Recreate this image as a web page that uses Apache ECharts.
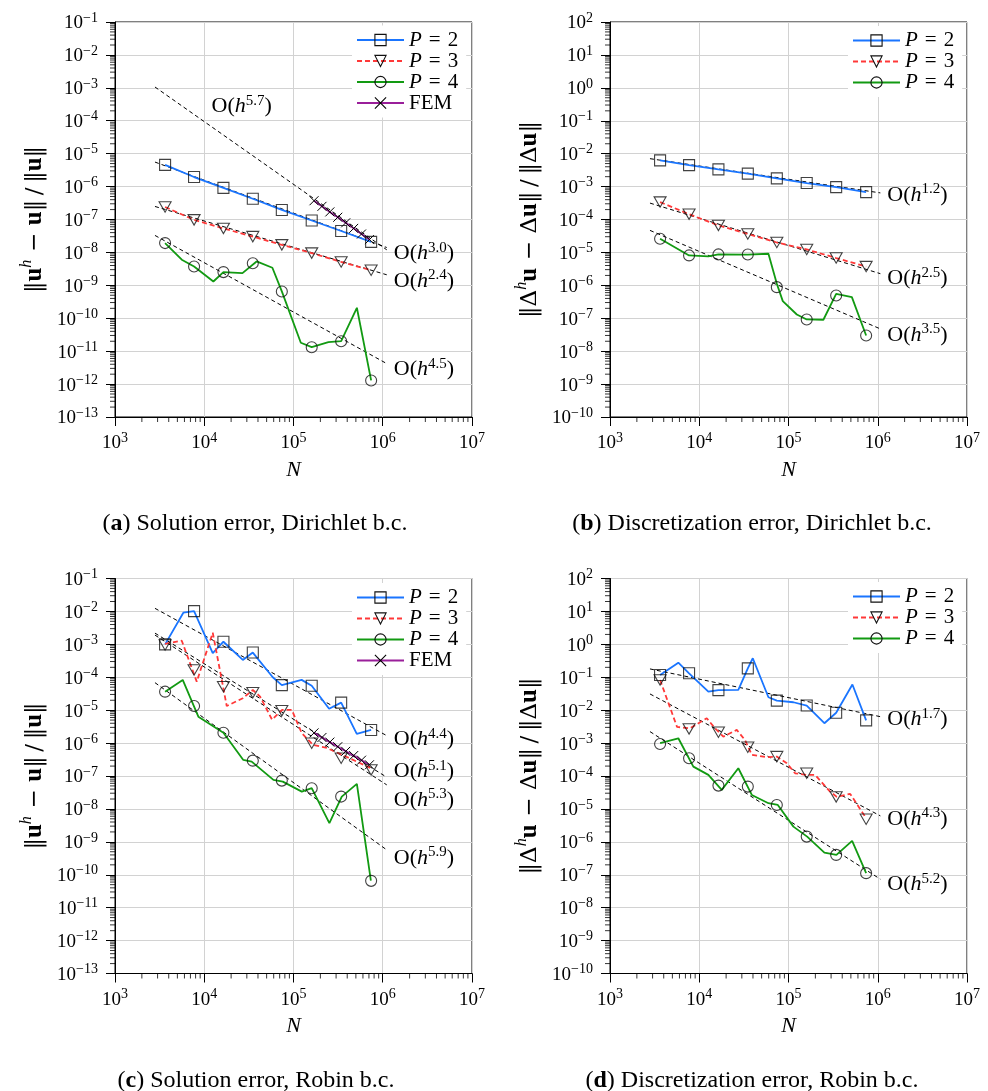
<!DOCTYPE html>
<html><head><meta charset="utf-8">
<script src="https://cdn.jsdelivr.net/npm/echarts@6/dist/echarts.min.js"></script>
<style>html,body{margin:0;padding:0;background:#fff}#c{width:988px;height:1091px}</style>
</head><body><div id="c"></div>
<script>
const FONT = "'Liberation Serif','DejaVu Serif',serif";
const FONT_W = "'DejaVu Serif','Liberation Serif',serif";

// ---------- shared abscissae ----------
const N_MARK = [3640, 7690, 16400, 35000, 74000, 160000, 342000, 741000];
const N_FEM  = [169800, 208400, 255300, 313300, 384600, 472100, 578100, 709600];
const N_REF_L = [2805, 1.109e6];
const N_REF_R = [2805, 1.07e6];

// ---------- (a) solution error, Dirichlet ----------
const a_p2 = [4.57e-6, 1.95e-6, 9.12e-7, 4.27e-7, 1.95e-7, 9.33e-8, 4.47e-8, 2.09e-8];
const a_p3 = [2.40e-7, 9.77e-8, 5.37e-8, 3.02e-8, 1.70e-8, 9.55e-9, 5.13e-9, 2.88e-9];
const a_p4 = [1.92e-8, 3.75e-9, 2.52e-9, 4.68e-9, 6.53e-10, 1.32e-11, 2.01e-11, 1.29e-12];
const a_p4_lineN = [3640, 5600, 7690, 12650, 16400, 26800, 38600, 58000, 74000, 120800, 160000, 246000, 342000, 513000, 741000];
const a_p4_lineE = [1.92e-8, 6.0e-9, 3.75e-9, 1.31e-9, 2.52e-9, 2.35e-9, 5.32e-9, 3.43e-9, 6.53e-10, 1.80e-11, 1.32e-11, 1.88e-11, 2.01e-11, 2.08e-10, 1.29e-12];
const a_fem = [3.72e-7, 2.51e-7, 1.70e-7, 1.17e-7, 7.94e-8, 5.37e-8, 3.63e-8, 2.45e-8];
const a_ref57 = [1.06e-3, 1.20e-8];
const a_ref30 = [5.56e-6, 1.41e-8];
const a_ref24 = [2.49e-7, 2.09e-9];
const a_ref45 = [3.28e-8, 4.19e-12];
const a_lbl57_at = [2.63e4, 2.94e-4];

// ---------- (b) discretization error, Dirichlet ----------
const b_p2 = [6.25e-3, 4.50e-3, 3.33e-3, 2.47e-3, 1.77e-3, 1.28e-3, 9.66e-4, 6.81e-4];
const b_p3 = [3.39e-4, 1.45e-4, 6.61e-5, 3.63e-5, 2.00e-5, 1.23e-5, 6.76e-6, 3.72e-6];
const b_p4 = [2.61e-5, 8.11e-6, 8.69e-6, 8.6e-6, 8.81e-7, 9.20e-8, 4.93e-7, 3.00e-8];
const b_p4_lineN = [3640, 7690, 12650, 16400, 35000, 59600, 74000, 86300, 123900, 160000, 246000, 342000, 513000, 741000];
const b_p4_lineE = [2.61e-5, 8.11e-6, 7.59e-6, 8.69e-6, 8.6e-6, 9.12e-6, 1.12e-6, 3.31e-7, 1.30e-7, 9.20e-8, 8.99e-8, 5.5e-7, 4.37e-7, 3.0e-8];
const b_ref12 = [7.05e-3, 6.43e-4];
const b_ref25 = [3.15e-4, 2.26e-6];
const b_ref35 = [4.67e-5, 4.75e-8];

// ---------- (c) solution error, Robin ----------
const c_p2 = [1.0e-3, 1.02e-2, 1.20e-3, 5.62e-4, 5.75e-5, 5.50e-5, 1.70e-5, 2.51e-6];
const c_p2_lineN = [3640, 5830, 7690, 12450, 16400, 27040, 35000, 58600, 74000, 123300, 160000, 250600, 342000, 511700, 741000];
const c_p2_lineE = [1.0e-3, 9.12e-3, 1.02e-2, 5.37e-4, 1.2e-3, 3.35e-4, 5.62e-4, 1.0e-4, 5.75e-5, 8.32e-5, 5.5e-5, 1.10e-5, 1.70e-5, 1.91e-6, 2.51e-6];
const c_p3 = [9.57e-4, 1.66e-4, 5.18e-5, 3.40e-5, 9.66e-6, 9.89e-7, 3.47e-7, 1.53e-7];
const c_p3_lineN = [3640, 5600, 8240, 12450, 17860, 27040, 35000, 42270, 57540, 74500, 95700, 123900, 166000, 236000, 332700, 512900, 722800];
const c_p3_lineE = [1.03e-3, 1.29e-3, 7.35e-5, 2.26e-3, 1.34e-5, 2.30e-5, 4.11e-5, 2.58e-5, 5.13e-6, 1.02e-5, 1.02e-5, 1.99e-6, 8.77e-7, 7.13e-7, 4.68e-7, 2.74e-7, 1.76e-7];
const c_p4 = [3.65e-5, 1.34e-5, 2.07e-6, 2.93e-7, 7.24e-8, 4.26e-8, 2.37e-8, 6.52e-11];
const c_p4_lineN = [3640, 5740, 8590, 16400, 27400, 34000, 59600, 75900, 123900, 160000, 252400, 347500, 512900, 736200];
const c_p4_lineE = [3.65e-5, 8.28e-5, 6.35e-6, 2.07e-6, 3.08e-7, 2.74e-7, 7.60e-8, 6.75e-8, 3.36e-8, 4.26e-8, 3.68e-9, 2.37e-8, 5.75e-8, 6.65e-11];
const c_fem = [2.04e-6, 1.48e-6, 1.07e-6, 7.76e-7, 5.62e-7, 4.17e-7, 3.02e-7, 2.19e-7];
const c_ref44 = [1.24e-2, 1.68e-6];
const c_ref51 = [2.19e-3, 9.18e-8];
const c_ref53 = [1.91e-3, 5.37e-8];
const c_ref59 = [6.85e-5, 5.69e-10];

// ---------- (d) discretization error, Robin ----------
const d_p2 = [1.17e-1, 1.32e-1, 4.07e-2, 1.86e-1, 1.95e-2, 1.38e-2, 8.32e-3, 4.90e-3];
const d_p2_lineN = [3640, 5830, 7690, 12650, 16400, 27400, 35000, 39800, 59600, 74000, 113500, 160000, 252400, 342000, 520000, 741000];
const d_p2_lineE = [1.17e-1, 2.77e-1, 1.32e-1, 3.65e-2, 4.07e-2, 4.11e-2, 1.86e-1, 3.78e-1, 2.47e-2, 1.95e-2, 1.74e-2, 1.38e-2, 4.01e-3, 8.32e-3, 6.03e-2, 4.90e-3];
const d_p3 = [8.28e-2, 2.69e-3, 2.13e-3, 7.48e-4, 3.88e-4, 1.21e-4, 2.32e-5, 4.86e-6];
const d_p3_lineN = [3640, 5640, 7890, 12130, 15030, 18620, 26300, 32580, 38820, 57150, 73960, 95700, 118600, 160300, 198600, 292400, 347500, 490900, 663700, 741300];
const d_p3_lineE = [8.28e-2, 3.09e-3, 2.82e-3, 5.68e-3, 2.82e-3, 1.57e-3, 2.51e-3, 1.24e-3, 4.37e-4, 3.72e-4, 3.88e-4, 2.44e-4, 1.21e-4, 1.08e-4, 1.08e-4, 3.36e-5, 2.32e-5, 2.86e-5, 8.28e-6, 5.22e-6];
const d_p4 = [9.42e-4, 3.47e-4, 5.11e-5, 4.76e-5, 1.32e-5, 1.44e-6, 4.01e-7, 1.12e-7];
const d_p4_lineN = [3640, 5830, 8590, 12650, 17860, 27400, 38820, 59600, 75900, 113500, 161800, 252400, 344400, 516400, 741300];
const d_p4_lineE = [9.89e-4, 1.40e-3, 1.93e-4, 1.08e-4, 3.78e-5, 1.72e-4, 2.66e-5, 1.49e-5, 1.32e-5, 2.90e-6, 1.44e-6, 4.71e-7, 4.01e-7, 1.07e-6, 1.12e-7];
const d_ref17 = [1.79e-1, 6.35e-3];
const d_ref43 = [3.11e-2, 6.14e-6];
const d_ref52 = [2.23e-3, 7.33e-8];

// ---------- texts ----------
const SERIES_NAMES = ['P = 2', 'P = 3', 'P = 4', 'FEM'];
const CAPTIONS = [
  '({b|a}) Solution error, Dirichlet b.c.',
  '({b|b}) Discretization error, Dirichlet b.c.',
  '({b|c}) Solution error, Robin b.c.',
  '({b|d}) Discretization error, Robin b.c.'
];
const YNAME_SOL  = '{t|‖}{b|u}{s|h}{t|\u2004−\u2004}{b|u}{t|‖\u2009/\u2009‖}{b|u}{t|‖}';
const YNAME_DISC = '{t|‖Δ}{s|h}{b|u}{t|\u2004−\u2004Δ}{b|u}{t|‖\u2009/\u2009‖Δ}{b|u}{t|‖}';
const X_RANGE = [1e3, 1e7];
const Y_RANGES = [[1e-13, 1e-1], [1e-10, 1e2], [1e-13, 1e-1], [1e-10, 1e2]];

// ---------- styling ----------
const BLUE = '#1a75ff', RED = '#ff3838', GREEN = '#129a12', PURPLE = '#9a1f9a';
const SYM_SQ = 'rect';
const SYM_TRI = 'path://M0,0L12,0L6,10.4Z';
const SYM_CIR = 'circle';
const SYM_X = 'path://M0,0L10,10M10,0L0,10';

const GRIDS = [
  {left: 115, top: 22, width: 357, height: 395},
  {left: 610, top: 22, width: 357, height: 395},
  {left: 115, top: 578.5, width: 357, height: 395},
  {left: 610, top: 578.5, width: 357, height: 395}
];

const TICK_RICH = {
  b: {fontFamily: FONT, fontSize: 19, lineHeight: 22, verticalAlign: 'bottom', color: '#000'},
  s: {fontFamily: FONT, fontSize: 14, lineHeight: 14, verticalAlign: 'top', color: '#000'}
};
function powLabel(v) {
  const e = Math.round(Math.log10(v));
  return '{b|10}{s|' + (e < 0 ? '\u2212' + (-e) : e) + '}';
}
const LBL_RICH = {
  o: {fontFamily: FONT, fontSize: 22, lineHeight: 24, verticalAlign: 'bottom', color: '#000'},
  h: {fontFamily: FONT, fontSize: 22, lineHeight: 24, verticalAlign: 'bottom', fontStyle: 'italic', color: '#000'},
  s: {fontFamily: FONT, fontSize: 15, lineHeight: 14, verticalAlign: 'top', color: '#000'}
};
function orderLabel(p) { return '{o|O(}{h|h}{s|' + p + '}{o|)}'; }

const xAxes = [], yAxes = [], series = [];
GRIDS.forEach((g, i) => {
  const common = {
    gridIndex: i, type: 'log', logBase: 10, interval: 1,
    axisLine: {show: true, onZero: false, lineStyle: {color: '#000', width: 1}},
    axisTick: {show: true, inside: false, length: 9, lineStyle: {color: '#000', width: 1}},
    splitLine: {show: true, lineStyle: {color: '#d2d2d2', width: 1}},
    axisLabel: {formatter: powLabel, rich: TICK_RICH, showMinLabel: true, showMaxLabel: true}
  };
  xAxes.push(Object.assign({}, common, {
    min: X_RANGE[0], max: X_RANGE[1], splitNumber: 4,
    axisLabel: Object.assign({}, common.axisLabel, {margin: 14}),
    name: 'N', nameLocation: 'middle', nameGap: 41,
    nameTextStyle: {fontFamily: FONT, fontSize: 22, fontStyle: 'italic', color: '#000', lineHeight: 24}
  }));
  yAxes.push(Object.assign({}, common, {
    min: Y_RANGES[i][0], max: Y_RANGES[i][1], splitNumber: 12,
    axisLabel: Object.assign({}, common.axisLabel, {margin: 17}),
    name: (i % 2 === 0) ? YNAME_SOL : YNAME_DISC, nameLocation: 'middle', nameGap: 68,
    nameTextStyle: {
      color: '#000', fontFamily: FONT_W, fontSize: 23, lineHeight: 28,
      rich: {
        t: {fontFamily: FONT_W, fontSize: 23, lineHeight: 28, verticalAlign: 'bottom', color: '#000'},
        b: {fontFamily: FONT, fontSize: 25, lineHeight: 28, verticalAlign: 'bottom', fontWeight: 'bold', color: '#000'},
        s: {fontFamily: FONT, fontSize: 16, lineHeight: 15, verticalAlign: 'top', fontStyle: 'italic', color: '#000'}
      }
    }
  }));
  // minor ticks (log sub-divisions) drawn through the axes' own scales
  const minor = [];
  for (let k = 3; k < 7; k++) for (let m = 2; m < 10; m++) minor.push([m * Math.pow(10, k), Y_RANGES[i][0], 0]);
  const e0 = Math.round(Math.log10(Y_RANGES[i][0])), e1 = Math.round(Math.log10(Y_RANGES[i][1]));
  for (let k = e0; k < e1; k++) for (let m = 2; m < 10; m++) minor.push([X_RANGE[0], m * Math.pow(10, k), 1]);
  series.push({
    type: 'custom', xAxisIndex: i, yAxisIndex: i, data: minor, clip: false, silent: true, z: 1,
    encode: {x: 0, y: 1},
    renderItem: function (params, api) {
      const p = api.coord([api.value(0), api.value(1)]);
      const L = 5;
      const shape = api.value(2) === 0
        ? {x1: p[0], y1: p[1], x2: p[0], y2: p[1] + L}
        : {x1: p[0] - L, y1: p[1], x2: p[0], y2: p[1]};
      return {type: 'line', shape: shape, style: {stroke: '#000', lineWidth: 0.8}};
    }
  });
});

function addRef(g, N, E, p, dy) {
  series.push({
    type: 'line', xAxisIndex: g, yAxisIndex: g, silent: true, z: 2,
    data: N.map((n, k) => [n, E[k]]), symbol: 'none',
    lineStyle: {color: '#000', width: 1, type: [4, 3]},
    endLabel: dy === null ? {show: false} : {
      show: true, formatter: () => orderLabel(p), rich: LBL_RICH, distance: 7, offset: [0, dy]
    }
  });
}
function addData(g, name, lineN, lineE, markE, color, dash, sym, size) {
  const st = {color: 'rgba(0,0,0,0)', borderColor: '#111', borderWidth: 1.1};
  series.push({
    type: 'line', name: name, xAxisIndex: g, yAxisIndex: g, silent: true, z: 3,
    data: lineN.map((n, k) => [n, lineE[k]]),
    symbol: sym, symbolSize: size, symbolKeepAspect: true, showSymbol: false,
    lineStyle: {color: color, width: 1.8, type: dash}, itemStyle: st
  });
  series.push({
    type: 'scatter', name: name + ' marks', xAxisIndex: g, yAxisIndex: g, silent: true, z: 4,
    data: N_MARK.map((n, k) => [n, markE[k]]),
    symbol: sym, symbolSize: size, symbolKeepAspect: true, itemStyle: st
  });
}
function addFem(g, E) {
  series.push({
    type: 'line', name: 'FEM', xAxisIndex: g, yAxisIndex: g, silent: true, z: 3,
    data: N_FEM.map((n, k) => [n, E[k]]),
    symbol: SYM_X, symbolSize: 9, showSymbol: true,
    lineStyle: {color: PURPLE, width: 1.8},
    itemStyle: {color: 'rgba(0,0,0,0)', borderColor: '#000', borderWidth: 1}
  });
}
const DASH = [5, 3];

// (a)
addRef(0, N_REF_L, a_ref57, '5.7', null);
series[series.length - 1].markPoint = {
  silent: true, symbol: 'circle', symbolSize: 0,
  label: {show: true, position: 'inside', formatter: () => orderLabel('5.7'), rich: LBL_RICH},
  data: [{coord: a_lbl57_at}]
};
addRef(0, N_REF_L, a_ref30, '3.0', 5);
addRef(0, N_REF_L, a_ref24, '2.4', 5);
addRef(0, N_REF_L, a_ref45, '4.5', 5);
addData(0, 'P = 2', N_MARK, a_p2, a_p2, BLUE, 'solid', SYM_SQ, 11);
addData(0, 'P = 3', N_MARK, a_p3, a_p3, RED, DASH, SYM_TRI, 12);
addData(0, 'P = 4', a_p4_lineN, a_p4_lineE, a_p4, GREEN, 'solid', SYM_CIR, 11);
addFem(0, a_fem);
// (b)
addRef(1, N_REF_R, b_ref12, '1.2', 1);
addRef(1, N_REF_R, b_ref25, '2.5', 4);
addRef(1, N_REF_R, b_ref35, '3.5', 5);
addData(1, 'P = 2', N_MARK, b_p2, b_p2, BLUE, 'solid', SYM_SQ, 11);
addData(1, 'P = 3', N_MARK, b_p3, b_p3, RED, DASH, SYM_TRI, 12);
addData(1, 'P = 4', b_p4_lineN, b_p4_lineE, b_p4, GREEN, 'solid', SYM_CIR, 11);
// (c)
addRef(2, N_REF_L, c_ref44, '4.4', 3);
addRef(2, N_REF_L, c_ref51, '5.1', -7);
addRef(2, N_REF_L, c_ref53, '5.3', 14);
addRef(2, N_REF_L, c_ref59, '5.9', 7);
addData(2, 'P = 2', c_p2_lineN, c_p2_lineE, c_p2, BLUE, 'solid', SYM_SQ, 11);
addData(2, 'P = 3', c_p3_lineN, c_p3_lineE, c_p3, RED, DASH, SYM_TRI, 12);
addData(2, 'P = 4', c_p4_lineN, c_p4_lineE, c_p4, GREEN, 'solid', SYM_CIR, 11);
addFem(2, c_fem);
// (d)
addRef(3, N_REF_R, d_ref17, '1.7', 2);
addRef(3, N_REF_R, d_ref43, '4.3', 2);
addRef(3, N_REF_R, d_ref52, '5.2', 4);
addData(3, 'P = 2', d_p2_lineN, d_p2_lineE, d_p2, BLUE, 'solid', SYM_SQ, 11);
addData(3, 'P = 3', d_p3_lineN, d_p3_lineE, d_p3, RED, DASH, SYM_TRI, 12);
addData(3, 'P = 4', d_p4_lineN, d_p4_lineE, d_p4, GREEN, 'solid', SYM_CIR, 11);

const LEG_POS = [[352, 25.5, 4], [848, 26, 3], [352, 583, 4], [848, 582, 3]];
const legends = LEG_POS.map(p => ({
  orient: 'vertical', left: p[0], top: p[1], itemWidth: 47, itemHeight: 14, itemGap: 0,
  padding: [4, 8, 4, 4], backgroundColor: '#fff', selectedMode: false, z: 6,
  data: SERIES_NAMES.slice(0, p[2]),
  itemStyle: {borderWidth: 1.1},
  formatter: n => n === 'FEM' ? 'FEM' : '{i|P}\u2004=\u2004' + n.slice(4),
  textStyle: {
    fontFamily: FONT, fontSize: 21, lineHeight: 17.6, color: '#000',
    rich: {i: {fontFamily: FONT, fontSize: 21, lineHeight: 17.6, fontStyle: 'italic', color: '#000'}}
  }
}));

const CAP_POS = [[250, 507], [747, 507], [251, 1064], [747, 1064]];
const titles = CAPTIONS.map((t, i) => ({
  text: t, left: CAP_POS[i][0], top: CAP_POS[i][1], textAlign: 'center',
  textStyle: {fontFamily: FONT, fontSize: 24, fontWeight: 'normal', color: '#000',
    rich: {b: {fontFamily: FONT, fontSize: 24, fontWeight: 'bold', color: '#000'}}}
}));

const chart = echarts.init(document.getElementById('c'), null, {renderer: 'canvas', width: 988, height: 1091});
chart.setOption({
  animation: false,
  backgroundColor: '#fff',
  title: titles,
  legend: legends,
  grid: GRIDS.map(g => Object.assign({show: true, borderColor: '#000', borderWidth: 1, backgroundColor: 'transparent'}, g)),
  xAxis: xAxes,
  yAxis: yAxes,
  series: series
});
</script></body></html>
